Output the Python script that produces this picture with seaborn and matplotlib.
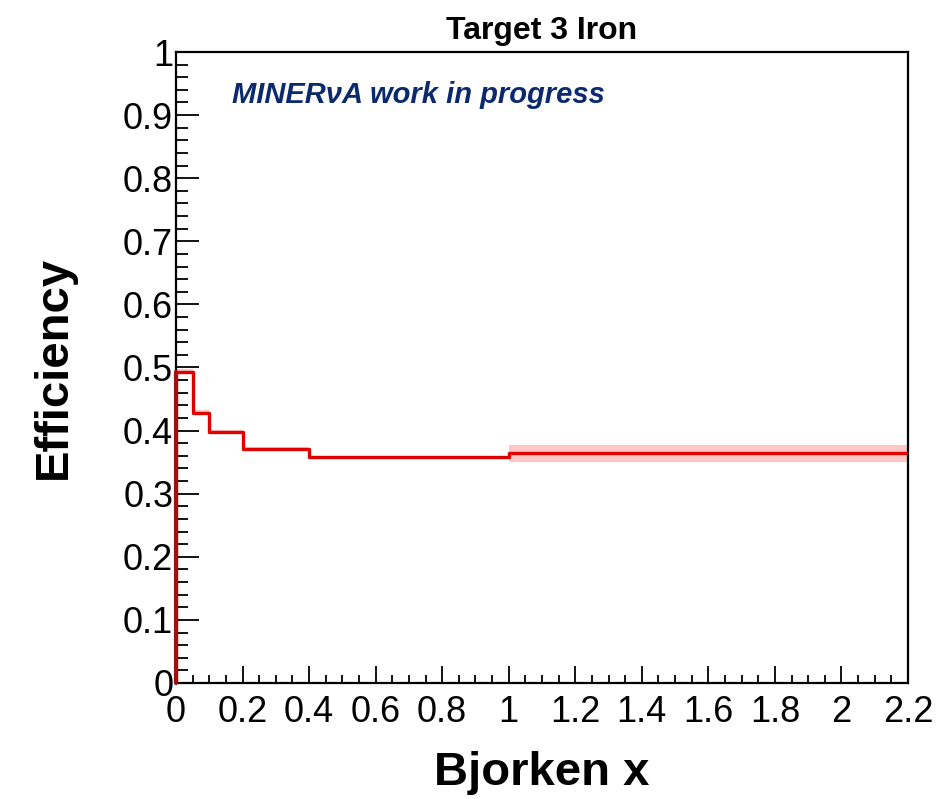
import numpy as np
import pandas as pd
import matplotlib
matplotlib.use("Agg")
import matplotlib.pyplot as plt
import seaborn as sns
from matplotlib.ticker import MultipleLocator, FuncFormatter

# ---- data ----
bin_edges = [0.0, 0.05, 0.1, 0.2, 0.4, 1.0, 2.2]
efficiency = [0.493, 0.428, 0.398, 0.371, 0.358, 0.364]
eff_error = [0.004, 0.004, 0.003, 0.003, 0.002, 0.013]
title_text = "Target 3 Iron"
xlabel_text = "Bjorken x"
ylabel_text = "Efficiency"
label_text = "MINERνA work in progress"

sns.set_style("white")
plt.rcParams['font.family'] = ['Liberation Sans', 'DejaVu Sans']
plt.rcParams['text.color'] = 'black'
plt.rcParams['axes.labelcolor'] = 'black'
plt.rcParams['xtick.color'] = 'black'
plt.rcParams['ytick.color'] = 'black'

fig = plt.figure(figsize=(9.38, 7.99), dpi=100)
ax = fig.add_axes([176/938, 1-683/799, (908-176)/938, (683-52)/799])

# step data
xs = [bin_edges[0]] + list(bin_edges)
ys = [0.0] + list(efficiency) + [efficiency[-1]]
df = pd.DataFrame({"x": xs, "y": ys})

lo = np.array(efficiency + [efficiency[-1]]) - np.array(eff_error + [eff_error[-1]])
hi = np.array(efficiency + [efficiency[-1]]) + np.array(eff_error + [eff_error[-1]])
ax.fill_between(bin_edges, lo, hi, step="post", color="#ffb3b3", alpha=0.75, linewidth=0, zorder=1)

sns.lineplot(data=df, x="x", y="y", drawstyle="steps-post", color="#e00000",
             linewidth=2.4, ax=ax, zorder=3, sort=False, estimator=None)
# dark red left edge
ax.plot([0, 0], [0, efficiency[0]], color="#a01010", linewidth=3, zorder=4, clip_on=False)

ax.set_xlim(0, 2.2)
ax.set_ylim(0, 1)

ax.xaxis.set_major_locator(MultipleLocator(0.2))
ax.xaxis.set_minor_locator(MultipleLocator(0.05))
ax.yaxis.set_major_locator(MultipleLocator(0.1))
ax.yaxis.set_minor_locator(MultipleLocator(0.02))

def fmt(v, pos):
    s = f"{v:.1f}"
    if s.endswith(".0"):
        s = s[:-2]
    return s
ax.xaxis.set_major_formatter(FuncFormatter(fmt))
ax.yaxis.set_major_formatter(FuncFormatter(fmt))

ax.tick_params(axis="x", which="major", direction="in", length=12, width=1.3,
               labelsize=26, pad=9, top=False, bottom=True)
ax.tick_params(axis="x", which="minor", direction="in", length=6, width=1.3, top=False, bottom=True)
ax.tick_params(axis="y", which="major", direction="in", length=16.5, width=1.3,
               labelsize=26, pad=2, right=False, left=True)
ax.tick_params(axis="y", which="minor", direction="in", length=8.5, width=1.3, right=False, left=True)

for sp in ax.spines.values():
    sp.set_visible(True)
    sp.set_linewidth(1.6)
    sp.set_color("black")

ax.set_xlabel(xlabel_text, fontsize=34, fontweight="bold", labelpad=15)
ax.set_ylabel(ylabel_text, fontsize=34, fontweight="bold", labelpad=34)
ax.set_title(title_text, fontsize=23, fontweight="bold", pad=9)

ax.text(232/938, 1-103/799, label_text, transform=fig.transFigure,
        fontsize=21, fontweight="bold", fontstyle="italic", color="#0b2a6e",
        ha="left", va="baseline")

fig.savefig("out.png", dpi=100)
